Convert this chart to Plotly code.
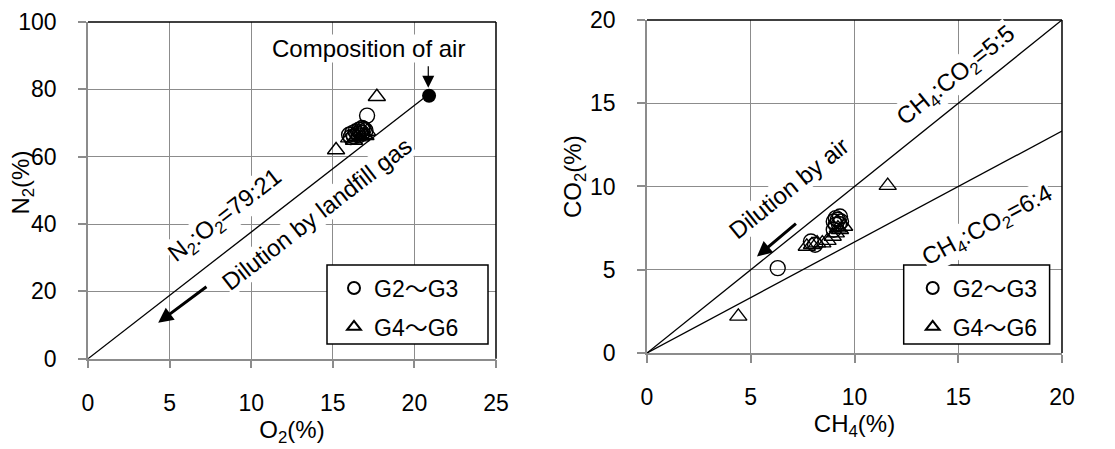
import plotly.graph_objects as go

# ---------------- data: left panel (O2 vs N2) ----------------
o2_g23 = [17.1, 16.0, 16.2, 16.4, 16.6, 16.8, 16.3, 16.5, 16.7, 16.9, 16.1, 16.6, 16.8, 17.0]
n2_g23 = [72.2, 66.5, 67.0, 67.5, 68.0, 68.5, 66.0, 66.8, 67.3, 68.2, 65.8, 66.3, 67.0, 67.8]
o2_g46 = [17.7, 15.2, 16.0, 16.5, 16.9, 17.1, 16.3, 16.7, 17.0]
n2_g46 = [77.8, 62.0, 65.5, 66.0, 66.5, 67.5, 64.8, 65.8, 66.2]
air_o2 = [20.9]
air_n2 = [78.1]
ratio_o2 = [0, 20.9]
ratio_n2 = [0, 78.6]

# ---------------- data: right panel (CH4 vs CO2) ----------------
ch4_g23 = [6.3, 7.9, 8.1, 9.0, 9.1, 9.2, 9.3, 9.1, 9.35, 9.0, 9.25]
co2_g23 = [5.1, 6.7, 6.5, 7.9, 8.1, 8.0, 8.2, 7.7, 7.9, 7.4, 7.75]
ch4_g46 = [4.4, 11.6, 7.7, 7.95, 8.2, 8.45, 8.7, 8.95, 9.1, 9.3, 9.5, 9.2]
co2_g46 = [2.2, 10.05, 6.4, 6.5, 6.6, 6.6, 6.75, 7.0, 7.2, 7.4, 7.6, 7.5]
line55_ch4 = [0, 20]
line55_co2 = [0, 20]
line64_ch4 = [0, 20]
line64_co2 = [0, 13.33]

x_ticks_left = [0, 5, 10, 15, 20, 25]
y_ticks_left = [0, 20, 40, 60, 80, 100]
x_ticks_right = [0, 5, 10, 15, 20]
y_ticks_right = [0, 5, 10, 15, 20]

FONT = "Liberation Sans, Arial, Noto Sans CJK JP, sans-serif"
GRID = "#8c8c8c"
MS = 15
W, H = 1107, 441   # page body has an 8px margin

fig = go.Figure()

# left panel
fig.add_trace(go.Scatter(x=ratio_o2, y=ratio_n2, mode="lines", line=dict(color="black", width=1.3),
                         showlegend=False, xaxis="x", yaxis="y", hoverinfo="skip"))
fig.add_trace(go.Scatter(x=o2_g23, y=n2_g23, mode="markers", name="G2～G3", legendgroup="a",
                         marker=dict(symbol="circle-open", size=MS, color="black", line=dict(width=1.4)),
                         xaxis="x", yaxis="y", legend="legend"))
fig.add_trace(go.Scatter(x=o2_g46, y=n2_g46, mode="markers", name="G4～G6", legendgroup="b",
                         marker=dict(symbol="triangle-up-open", size=MS, color="black", line=dict(width=1.4)),
                         xaxis="x", yaxis="y", legend="legend"))
fig.add_trace(go.Scatter(x=air_o2, y=air_n2, mode="markers", showlegend=False,
                         marker=dict(symbol="circle", size=14, color="black"),
                         xaxis="x", yaxis="y"))

# right panel
fig.add_trace(go.Scatter(x=line55_ch4, y=line55_co2, mode="lines", line=dict(color="black", width=1.3),
                         showlegend=False, xaxis="x2", yaxis="y2", hoverinfo="skip"))
fig.add_trace(go.Scatter(x=line64_ch4, y=line64_co2, mode="lines", line=dict(color="black", width=1.3),
                         showlegend=False, xaxis="x2", yaxis="y2", hoverinfo="skip"))
fig.add_trace(go.Scatter(x=ch4_g23, y=co2_g23, mode="markers", name="G2～G3", legendgroup="c",
                         marker=dict(symbol="circle-open", size=MS, color="black", line=dict(width=1.4)),
                         xaxis="x2", yaxis="y2", legend="legend2"))
fig.add_trace(go.Scatter(x=ch4_g46, y=co2_g46, mode="markers", name="G4～G6", legendgroup="d",
                         marker=dict(symbol="triangle-up-open", size=MS, color="black", line=dict(width=1.4)),
                         xaxis="x2", yaxis="y2", legend="legend2"))

axis_common = dict(showgrid=True, gridcolor=GRID, gridwidth=1, showline=True, linecolor=GRID, linewidth=1.5,
                   ticks="outside", ticklen=8, tickcolor=GRID, tickwidth=1.5, zeroline=False,
                   tickfont=dict(size=23, color="black", family=FONT),
                   ticklabeloverflow="allow", fixedrange=True, automargin=False)

leg_common = dict(xanchor="left", yanchor="top", bgcolor="rgba(0,0,0,0)", borderwidth=0,
                  font=dict(size=23, family=FONT, color="black"),
                  itemsizing="constant", tracegroupgap=6)

fig.update_layout(
    width=W, height=H, margin=dict(l=0, r=0, t=0, b=0),
    paper_bgcolor="white", plot_bgcolor="white",
    font=dict(family=FONT, size=24, color="black"),
    xaxis=dict(domain=[0.07227, 0.44083], range=[0, 25], tickvals=x_ticks_left, anchor="y",
               ticklabelstandoff=15,
               title=dict(text="O<sub>2</sub>(%)", standoff=4, font=dict(size=24)), **axis_common),
    yaxis=dict(domain=[0.20476, 0.96825], range=[0, 100], tickvals=y_ticks_left, anchor="x",
               ticklabelstandoff=17, **axis_common),
    xaxis2=dict(domain=[0.57724, 0.95212], range=[0, 20], tickvals=x_ticks_right, anchor="y2",
                ticklabelstandoff=15,
                title=dict(text="CH<sub>4</sub>(%)", standoff=6, font=dict(size=24)), **axis_common),
    yaxis2=dict(domain=[0.21769, 0.97280], range=[0, 20], tickvals=y_ticks_right, anchor="x2",
                ticklabelstandoff=17, **axis_common),
    legend=dict(x=326 / W, y=0.4138, **leg_common),
    legend2=dict(x=904.7 / W, y=0.4138, **leg_common),
)

# black top/right borders of plot areas
for xr, yr in (("x domain", "y domain"), ("x2 domain", "y2 domain")):
    fig.add_shape(type="line", xref=xr, yref=yr, x0=0, x1=1, y0=1, y1=1,
                  line=dict(color="black", width=1.5), layer="above")
    fig.add_shape(type="line", xref=xr, yref=yr, x0=1, x1=1, y0=0, y1=1,
                  line=dict(color="black", width=1.5), layer="above")

# legend frames
fig.add_shape(type="rect", xref="paper", yref="paper", x0=319 / W, x1=480 / W, y0=0.2381, y1=0.41723,
              fillcolor="white", line=dict(color="black", width=1.5), layer="above")
fig.add_shape(type="rect", xref="paper", yref="paper", x0=895.7 / W, x1=1041.6 / W, y0=0.2381, y1=0.41723,
              fillcolor="white", line=dict(color="black", width=1.5), layer="above")

ang_left = -37.8
ang55 = -38.8
ang64 = -28.2
txt = dict(showarrow=False, bgcolor="white", font=dict(size=24, family=FONT, color="black"), borderpad=0)
ttl = dict(showarrow=False, textangle=-90, xanchor="center", yanchor="middle",
           xref="paper", yref="paper", font=dict(size=24, family=FONT, color="black"))

# y-axis titles (placed as in the reference, close to the tick labels)
fig.add_annotation(x=14.5 / W, y=0.603, text="N<sub>2</sub>(%)", **ttl)
fig.add_annotation(x=567 / W, y=0.6168, text="CO<sub>2</sub>(%)", **ttl)

# left annotations
fig.add_annotation(x=8.4, y=42.2, xref="x", yref="y", text="N<sub>2</sub>:O<sub>2</sub>=79:21",
                   textangle=ang_left, **txt)
fig.add_annotation(x=14.05, y=43.0, xref="x", yref="y", text="Dilution by landfill gas",
                   textangle=ang_left, **txt)
fig.add_annotation(x=17.2, y=92.2, xref="x", yref="y", text="Composition of air", **txt)
fig.add_annotation(x=4.3, y=10.7, ax=7.35, ay=21.7, xref="x", yref="y", axref="x", ayref="y",
                   text="", showarrow=True, arrowhead=2, arrowsize=1, arrowwidth=3, arrowcolor="black")
fig.add_annotation(x=20.85, y=80.5, ax=20.85, ay=87.3, xref="x", yref="y", axref="x", ayref="y",
                   text="", showarrow=True, arrowhead=2, arrowsize=2, arrowwidth=1.2, arrowcolor="black")

# right annotations
fig.add_annotation(x=14.9, y=16.6, xref="x2", yref="y2", text="CH<sub>4</sub>:CO<sub>2</sub>=5:5",
                   textangle=ang55, **txt)
fig.add_annotation(x=16.4, y=7.6, xref="x2", yref="y2", text="CH<sub>4</sub>:CO<sub>2</sub>=6:4",
                   textangle=ang64, **txt)
fig.add_annotation(x=6.8, y=9.9, xref="x2", yref="y2", text="Dilution by air",
                   textangle=ang55, **txt)
fig.add_annotation(x=5.3, y=5.8, ax=7.25, ay=7.85, xref="x2", yref="y2", axref="x2", ayref="y2",
                   text="", showarrow=True, arrowhead=2, arrowsize=1, arrowwidth=3, arrowcolor="black")

fig.write_html("out.html")
